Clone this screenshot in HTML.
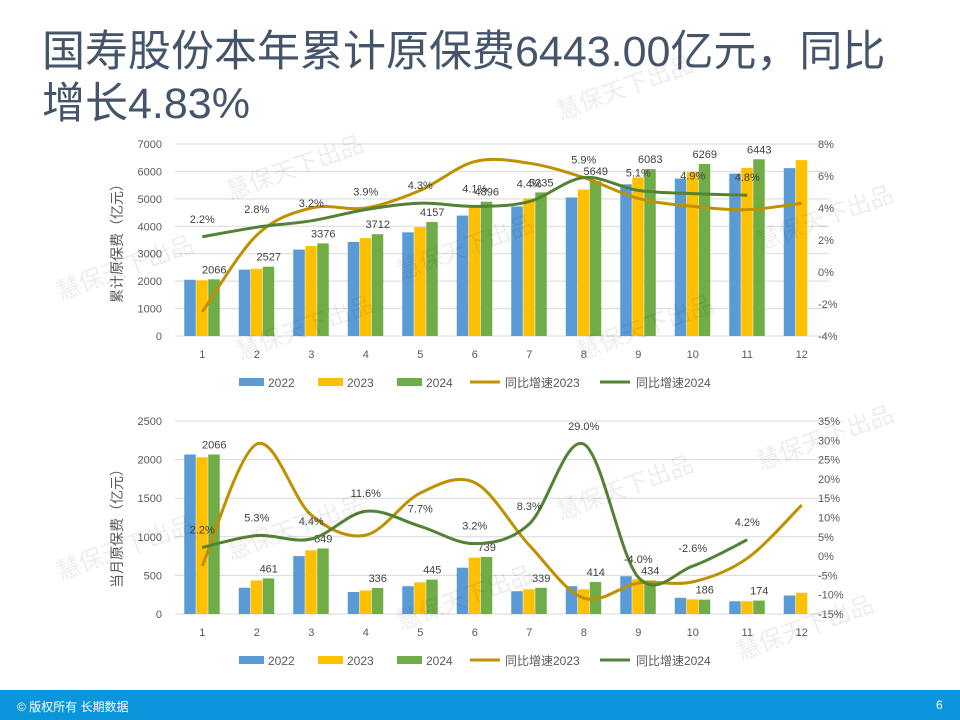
<!DOCTYPE html>
<html><head><meta charset="utf-8"><style>
body{margin:0;width:960px;height:720px;overflow:hidden;background:#fff;font-family:"Liberation Sans","Noto Sans CJK SC",sans-serif;position:relative}
.t{position:absolute;left:42px;top:26px;font-size:43px;line-height:52px;color:#44546a;font-family:"Liberation Sans","Noto Sans CJK SC",sans-serif;white-space:nowrap}
.f{position:absolute;left:0;top:690px;width:960px;height:30px;background:#0b96dc;color:#fff;font-size:12px}
svg{position:absolute;left:0;top:0}
</style></head><body>
<div class="t">国寿股份本年累计原保费6443.00亿元，同比<br>增长4.83%</div>
<svg id="s" width="960" height="720" font-family="Liberation Sans, Noto Sans CJK SC, sans-serif"></svg>
<div class="f"><span style="position:absolute;left:17px;top:8px">© 版权所有 长期数据</span><span style="position:absolute;left:936px;top:8px">6</span></div>
<script>
var s=document.getElementById('s'),h='';
function sm(p){var d='M'+p[0][0]+','+p[0][1];for(var i=0;i<p.length-1;i++){var a=p[i-1]||p[i],b=p[i],c=p[i+1],e=p[i+2]||c;d+=' C'+(b[0]+(c[0]-a[0])/6)+','+(b[1]+(c[1]-a[1])/6)+' '+(c[0]-(e[0]-b[0])/6)+','+(c[1]-(e[1]-b[1])/6)+' '+c[0]+','+c[1];}return d;}
function chart(o){
 var x0=175,step=54.5;
 for(var i=0;i<o.lt.length;i++){var y=o.y0-i*o.lstep;h+='<line x1="175" x2="829" y1="'+y+'" y2="'+y+'" stroke="#d9d9d9"/>';
 h+='<text x="162" y="'+(y+4)+'" font-size="11" fill="#595959" text-anchor="end">'+o.lt[i]+'</text>';}
 for(var i=0;i<o.rt.length;i++){var y=o.y0-i*o.rstep;h+='<text x="818" y="'+(y+4)+'" font-size="11" fill="#595959">'+o.rt[i]+'</text>';}
 var cols=['#5b9bd5','#ffc000','#70ad47'];
 for(var k=0;k<3;k++)o.b[k].forEach(function(v,i){var cx=x0+step*(i+.5);var bh=v*o.sc;h+='<rect x="'+(cx-18+k*12)+'" y="'+(o.y0-bh)+'" width="11.5" height="'+bh+'" fill="'+cols[k]+'"/>';});
 o.b[2].forEach(function(v,i){var cx=x0+step*(i+.5);h+='<text x="'+(cx+12)+'" y="'+(o.y0-v*o.sc-6)+'" font-size="11" fill="#404040" text-anchor="middle">'+v+'</text>';});
 for(var i=0;i<12;i++)h+='<text x="'+(x0+step*(i+.5))+'" y="'+(o.y0+22)+'" font-size="11" fill="#595959" text-anchor="middle">'+(i+1)+'</text>';
 var lc=['#bf9000','#548235'];
 [o.g3,o.g4].forEach(function(g,k){var p=g.map(function(v,i){return[x0+step*(i+.5),o.yz-v*o.pc]});h+='<path d="'+sm(p)+'" fill="none" stroke="'+lc[k]+'" stroke-width="3"/>';});
 o.g4l.forEach(function(v,i){h+='<text x="'+(x0+step*(i+.5))+'" y="'+(o.yz-o.g4[i]*o.pc-o.off)+'" font-size="11" fill="#404040" text-anchor="middle">'+v.toFixed(1)+'%</text>';});
 h+='<text transform="translate(122,'+o.ly+') rotate(-90)" font-size="14" fill="#595959" text-anchor="middle">'+o.lab+'</text>';
 var L=o.y0+47;
 h+='<rect x="239" y="'+(L-5)+'" width="25" height="8" fill="#5b9bd5"/><text x="268" y="'+(L+4)+'" font-size="12" fill="#595959">2022</text>';
 h+='<rect x="318" y="'+(L-5)+'" width="25" height="8" fill="#ffc000"/><text x="347" y="'+(L+4)+'" font-size="12" fill="#595959">2023</text>';
 h+='<rect x="397" y="'+(L-5)+'" width="25" height="8" fill="#70ad47"/><text x="426" y="'+(L+4)+'" font-size="12" fill="#595959">2024</text>';
 h+='<line x1="470" x2="500" y1="'+(L-1)+'" y2="'+(L-1)+'" stroke="#bf9000" stroke-width="3"/><text x="505" y="'+(L+4)+'" font-size="12" fill="#595959">同比增速2023</text>';
 h+='<line x1="600" x2="630" y1="'+(L-1)+'" y2="'+(L-1)+'" stroke="#548235" stroke-width="3"/><text x="636" y="'+(L+4)+'" font-size="12" fill="#595959">同比增速2024</text>';
}
chart({y0:336,lstep:27.43,lt:[0,1000,2000,3000,4000,5000,6000,7000],rt:['-4%','-2%','0%','2%','4%','6%','8%'],rstep:32,sc:0.02743,yz:272,pc:16,off:14,ly:240,lab:'累计原保费（亿元）',
b:[[2050,2420,3150,3430,3780,4390,4720,5050,5530,5740,5920,6120],[2030,2450,3280,3570,3970,4740,5020,5340,5780,5970,6130,6410],[2066,2527,3376,3712,4157,4896,5235,5649,6083,6269,6443]],
g3:[-2.5,2.3,4.0,4.0,5.1,6.9,6.8,5.9,4.6,4.1,3.9,4.3],g4:[2.2,2.8,3.2,3.9,4.3,4.1,4.4,5.9,5.1,4.9,4.8],g4l:[2.2,2.8,3.2,3.9,4.3,4.1,4.4,5.9,5.1,4.9,4.8]});
chart({y0:614,lstep:38.6,lt:[0,500,1000,1500,2000,2500],rt:['-15%','-10%','-5%','0%','5%','10%','15%','20%','25%','30%','35%'],rstep:19.3,sc:0.0772,yz:556,pc:3.86,off:14,ly:525,lab:'当月原保费（亿元）',
b:[[2066,340,750,285,360,600,295,360,490,210,165,240],[2030,435,825,305,410,730,320,320,450,190,165,275],[2066,461,849,336,445,739,339,414,434,186,174]],
g3:[-2.6,29,10.6,5.4,16.3,19,2.8,-10.9,-7,-6.7,-0.6,13.2],g4:[2.2,5.3,4.4,11.6,7.7,3.2,8.3,29,-5.5,-2.6,4.2],g4l:[2.2,5.3,4.4,11.6,7.7,3.2,8.3,29.0,-4.0,-2.6,4.2]});
var wm='';[[230,200],[560,120],[60,300],[400,280],[760,250],[230,560],[560,520],[60,580],[400,630],[760,470],[580,360],[240,360],[740,660]].forEach(function(p){wm+='<text x="'+p[0]+'" y="'+p[1]+'" font-size="24" fill="#000" fill-opacity="0.07" transform="rotate(-20 '+p[0]+' '+p[1]+')">慧保天下出品</text>';});
s.innerHTML=h+wm;
</script>
</body></html>
